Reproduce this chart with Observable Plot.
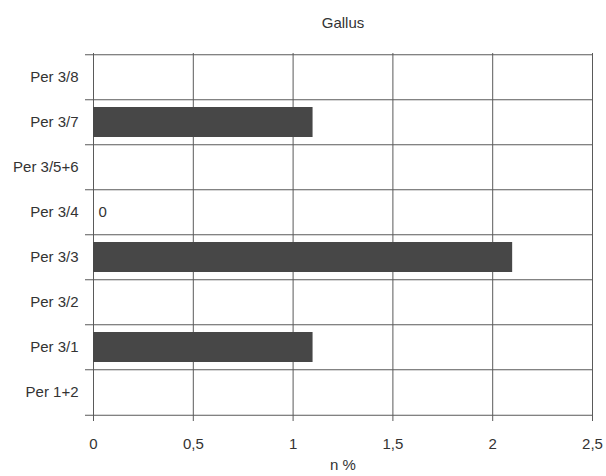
<!DOCTYPE html>
<html>
<head>
<meta charset="utf-8">
<script src="https://cdn.jsdelivr.net/npm/d3@7"></script>
<script src="https://cdn.jsdelivr.net/npm/@observablehq/plot@0.6"></script>
<style>
  html, body { margin: 0; padding: 0; background: #fff; }
  #chart svg { display: block; }
</style>
</head>
<body>
<div id="chart"></div>
<script>
const title = "Gallus";
const xLabel = "n %";
const categories = ["Per 3/8", "Per 3/7", "Per 3/5+6", "Per 3/4", "Per 3/3", "Per 3/2", "Per 3/1", "Per 1+2"];
const values = [null, 1.1, null, 0, 2.1, null, 1.1, null];
const xTicks = [0, 0.5, 1, 1.5, 2, 2.5];

const data = categories.map((c, i) => ({cat: c, value: values[i]}));
const fmt = d => String(d).replace(".", ",");

const marginTop = 53, marginBottom = 59;
const H = 476;
const step = (H - marginTop - marginBottom) / categories.length;
const gridColor = "#5a5a5a";
const textColor = "#333";

const chart = Plot.plot({
  width: 606,
  height: H,
  marginLeft: 93,
  marginRight: 14,
  marginTop,
  marginBottom,
  style: {fontFamily: "'Liberation Sans', Arial, sans-serif", fontSize: "15px", color: textColor, background: "#fff"},
  x: {domain: [0, 2.5]},
  y: {domain: categories, paddingInner: 0.33, paddingOuter: 0.165},
  marks: [
    Plot.ruleX(xTicks, {stroke: gridColor, strokeWidth: 1}),
    Plot.tickY(categories, {y: d => d, dy: -step / 2, insetLeft: -8, stroke: gridColor, strokeWidth: 1}),
    Plot.tickY([categories[categories.length - 1]], {y: d => d, dy: step / 2, insetLeft: -8, stroke: gridColor, strokeWidth: 1}),
    Plot.barX(data.filter(d => d.value > 0), {x: "value", y: "cat", fill: "#474747"}),
    Plot.text(data.filter(d => d.value === 0), {x: "value", y: "cat", text: d => fmt(d.value), textAnchor: "start", dx: 5, fill: textColor, fontSize: 15}),
    Plot.axisY({tickSize: 0, tickPadding: 15, label: null, fontSize: 15, fill: textColor}),
    Plot.axisX({ticks: xTicks, tickFormat: fmt, tickSize: 4, tickPadding: 17, label: null, fontSize: 15, fill: textColor, stroke: gridColor}),
    Plot.text([title], {frameAnchor: "top", dy: -36, fontSize: 15, fill: textColor}),
    Plot.text([xLabel], {frameAnchor: "bottom", dy: 52, fontSize: 15, fill: textColor})
  ]
});
document.getElementById("chart").appendChild(chart);
</script>
</body>
</html>
